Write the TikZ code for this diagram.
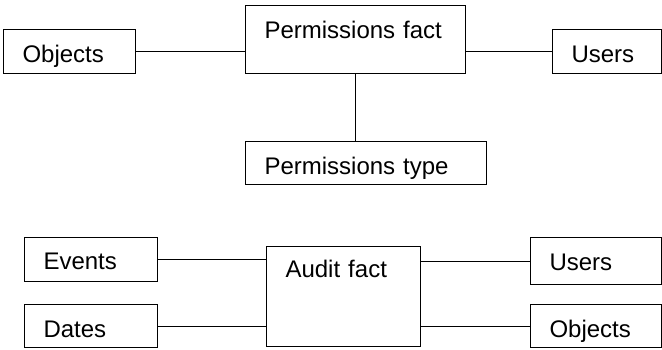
\documentclass[tikz,border=0pt]{standalone}
\usepackage{fontspec}
\setmainfont{Liberation Sans}
\usetikzlibrary{positioning}

\begin{document}
\begin{tikzpicture}[x=1pt, y=-1pt]
    \tikzstyle{tbl} = [draw, rectangle, line width=1.1pt, anchor=north west, align=left,
                       inner xsep=19pt, inner ysep=0pt, font=\fontsize{24}{28}\selectfont];

    \useasboundingbox (0,0) rectangle (662,349);

    % permissions star
    \node[tbl, text width=182pt, text height=33pt, text depth=35pt] (pfact) at (245,5) {Permissions fact};
    \node[tbl, text width=94pt, text height=33pt, text depth=11pt] (objA) at (3,29) {Objects};
    \node[tbl, text width=71pt, text height=33pt, text depth=11pt] (usersA) at (552,29) {Users};
    \node[tbl, below=67pt of pfact.south west, anchor=north west,
          text width=203pt, text height=33pt, text depth=10pt] (ptype) {Permissions type};

    \draw[line width=1.1pt] (objA.east) -- (objA.east -| pfact.west);
    \draw[line width=1.1pt] (usersA.west) -- (usersA.west -| pfact.east);
    \draw[line width=1.1pt] (pfact.south) -- (pfact.south |- ptype.north);

    % audit star
    \node[tbl, text width=116pt, text height=31pt, text depth=69pt] (afact) at (266,246) {Audit fact};
    \node[tbl, text width=95pt, text height=32pt, text depth=12pt] (events) at (24,237) {Events};
    \node[tbl, below=22pt of events.south west, anchor=north west,
          text width=95pt, text height=33pt, text depth=10pt] (dates) {Dates};
    \node[tbl, text width=93pt, text height=33pt, text depth=14pt] (usersB) at (530,237) {Users};
    \node[tbl, below=19pt of usersB.south west, anchor=north west,
          text width=93pt, text height=33pt, text depth=10pt] (objB) {Objects};

    \draw[line width=1.1pt] (events.east) -- (events.east -| afact.west);
    \draw[line width=1.1pt] (dates.east) -- (dates.east -| afact.west);
    \draw[line width=1.1pt] (usersB.west) -- (usersB.west -| afact.east);
    \draw[line width=1.1pt] (objB.west) -- (objB.west -| afact.east);
\end{tikzpicture}
\end{document}
